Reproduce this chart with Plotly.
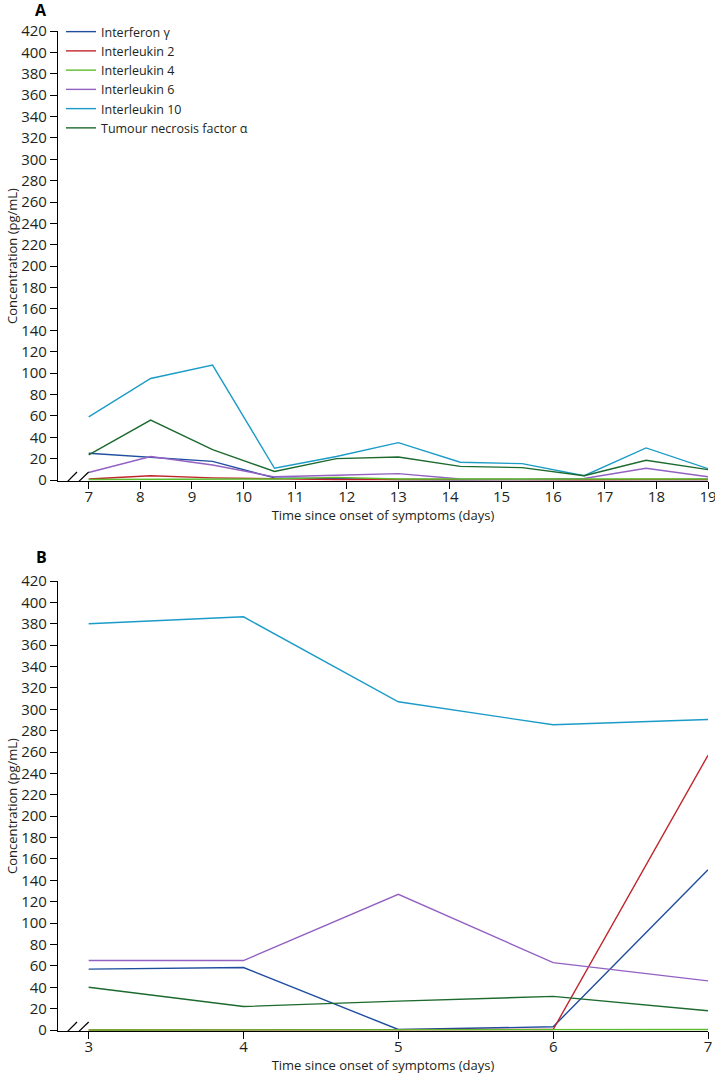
import plotly.graph_objects as go

# panel A: days 7-19
days_a = [7, 8.2, 9.4, 10.6, 11.8, 13, 14.2, 15.4, 16.6, 17.8, 19]
ifn_a = [25, 21.5, 17.5, 2, 1, 0.5, 0.3, 0.3, 0.5, 0.5, 0.5]
il2_a = [1, 4, 2, 1, 0.5, 0.5, 0.3, 0.3, 0.3, 0.5, 0.5]
il4_a = [0.5, 0.5, 0.5, 1, 2.5, 1, 1, 1, 1, 1, 1]
il6_a = [7, 22, 14, 3, 4.5, 6, 1, 0.8, 1.5, 11, 3]
il10_a = [59, 95, 107.5, 11, 22, 35, 16.6, 15.3, 4, 30, 10.6]
tnf_a = [23.5, 56, 28.5, 8, 20, 21.5, 12.8, 11.6, 4, 18.5, 9.7]

# panel B: days 3-7
days_b = [3, 4, 5, 6, 7]
ifn_b = [57, 58.5, 0.5, 3, 150]
il2_b = [0, 0, 0, 0.5, 257]
il4_b = [0, 0, 0, 0, 0.5]
il6_b = [65, 65, 127, 63, 46]
il10_b = [380, 386.5, 307, 285.5, 290.5]
tnf_b = [40, 22, 27, 31.5, 18]

names = ["Interferon γ", "Interleukin 2", "Interleukin 4", "Interleukin 6",
         "Interleukin 10", "Tumour necrosis factor α"]
colors = ["#1f4e9e", "#c0272d", "#5dbd2c", "#9361c2", "#1b9bc8", "#1c6a2e"]

series_a = [ifn_a, il2_a, il4_a, il6_a, il10_a, tnf_a]
series_b = [ifn_b, il2_b, il4_b, il6_b, il10_b, tnf_b]

FONT = "Open Sans"
TXT = "#231f20"
W, H = 715, 1075

fig = go.Figure()

for i, (name, col, ya) in enumerate(zip(names, colors, series_a)):
    fig.add_trace(go.Scatter(x=days_a, y=ya, name=name, mode="lines",
                             line=dict(color=col, width=1.4), legendrank=i,
                             xaxis="x", yaxis="y"))
for name, col, yb in zip(names, colors, series_b):
    fig.add_trace(go.Scatter(x=days_b, y=yb, name=name, mode="lines",
                             line=dict(color=col, width=1.4),
                             xaxis="x2", yaxis="y2", showlegend=False))

# light green line drawn last, on top of the others
fig.data = [t for t in fig.data if t.line.color != colors[2]] + \
           [t for t in fig.data if t.line.color == colors[2]]

x_dom = [58 / W, 708 / W]
axis_style = dict(showline=True, linecolor="black", linewidth=1.2,
                  ticks="outside", ticklen=7, tickwidth=1.2, tickcolor="black",
                  showgrid=False, zeroline=False, automargin=False,
                  ticklabeloverflow="allow",
                  tickfont=dict(family=FONT, size=15, color=TXT))
xtitle = dict(text="Time since onset of symptoms (days)",
              font=dict(size=13, color=TXT), standoff=0)
ytitle = dict(text="Concentration (pg/mL)", font=dict(size=13, color=TXT),
              standoff=0)

fig.update_layout(
    width=W, height=H,
    margin=dict(l=0, r=0, t=0, b=0, autoexpand=False),
    paper_bgcolor="white", plot_bgcolor="white",
    font=dict(family=FONT, size=13, color=TXT),
    xaxis=dict(domain=x_dom, range=[6.405, 19], dtick=1, tick0=7,
               anchor="y", title=xtitle, ticklabelstandoff=-5, **axis_style),
    yaxis=dict(domain=[1 - 481.1 / H, 1 - 31 / H], range=[-1, 420], dtick=20,
               anchor="x", title=ytitle, **axis_style),
    xaxis2=dict(domain=x_dom, range=[2.802, 7], dtick=1, tick0=3,
                anchor="y2", title=xtitle, ticklabelstandoff=-5, **axis_style),
    yaxis2=dict(domain=[1 - 1031.1 / H, 1 - 581 / H], range=[-1, 420],
                dtick=20, anchor="x2", title=ytitle, **axis_style),
    legend=dict(x=61 / W, y=1 - 17 / H, xanchor="left", yanchor="top",
                bgcolor="rgba(0,0,0,0)", font=dict(size=12.5, color=TXT),
                itemwidth=30, tracegroupgap=0),
    showlegend=True,
)

# panel letters
for letter, ypx in [("A", 10), ("B", 557)]:
    fig.add_annotation(text="<b>%s</b>" % letter, x=41 / W, y=1 - ypx / H,
                       xref="paper", yref="paper", xanchor="center",
                       yanchor="middle", showarrow=False,
                       font=dict(size=16, color="black"))

# axis break marks on both x axes
for xr, yr in [("x domain", "y"), ("x2 domain", "y2")]:
    fig.add_shape(type="rect", xref=xr, yref=yr, x0=11 / 650, x1=22 / 650,
                  y0=-3, y1=1.5, fillcolor="white", line=dict(width=0))
    for x0, x1 in [(3 / 650, 19 / 650), (14 / 650, 30.7 / 650)]:
        fig.add_shape(type="line", xref=xr, yref=yr, x0=x0, x1=x1,
                      y0=-7.5, y1=7.5, line=dict(color="black", width=1.2))
    # y axis line continues a little below the x axis
    fig.add_shape(type="line", xref=xr, yref=yr, x0=0, x1=0, y0=-1, y1=-7.5,
                  line=dict(color="black", width=1.2))

# drop the default 8px page margin so the figure sits at the window corner
fig.write_html("out.html", config={"displayModeBar": False},
               post_script="document.body.style.margin='0';")
